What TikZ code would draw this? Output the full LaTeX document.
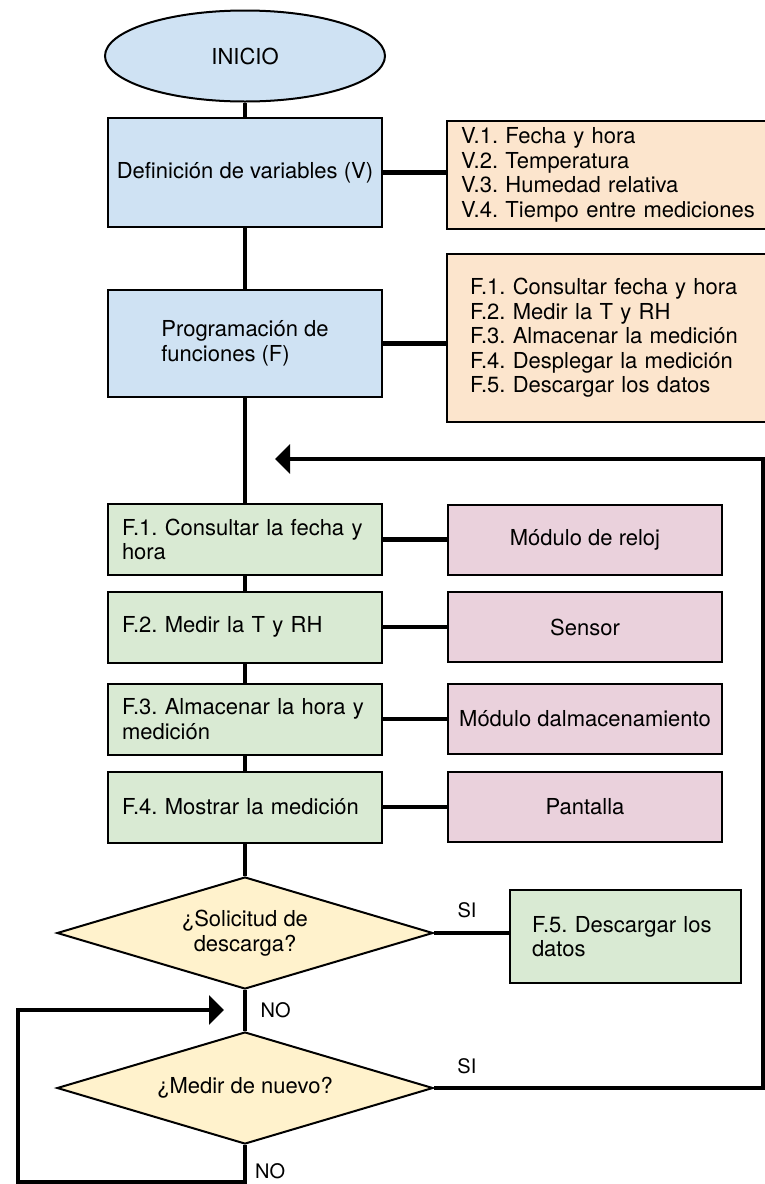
\documentclass[tikz,border=0pt]{standalone}
\usepackage{fontspec}
\setmainfont{TeX Gyre Heros}
\usetikzlibrary{positioning,arrows.meta,shapes.geometric}
\definecolor{azulF}{HTML}{CFE2F3}
\definecolor{naranjaF}{HTML}{FCE5CD}
\definecolor{verdeF}{HTML}{D9EAD3}
\definecolor{rosaF}{HTML}{EAD1DC}
\definecolor{amarilloF}{HTML}{FFF2CC}
\tikzset{
  inicio/.style={ellipse,draw,fill=azulF,line width=2pt,minimum width=280pt,minimum height=91pt},
  proceso/.style={rectangle,draw,fill=azulF,line width=2pt,minimum width=274pt,align=center},
  lista/.style={rectangle,draw,fill=naranjaF,line width=2pt,align=left},
  funcion/.style={rectangle,draw,fill=verdeF,line width=2pt,minimum height=71pt,inner xsep=14pt,text width=246pt,align=left},
  modulo/.style={rectangle,draw,fill=rosaF,line width=2pt,minimum width=274pt,minimum height=70pt,inner xsep=4pt,align=center},
  decision/.style={diamond,draw,fill=amarilloF,line width=2pt,aspect=3.3,inner sep=0pt,minimum width=376pt,minimum height=112pt,align=center},
  union/.style={line width=4.5pt},
  lazo/.style={line width=3.5pt,-{Triangle[length=15pt,width=29pt]}},
  etiqueta/.style={font=\fontsize{20}{22}\selectfont},
}
\begin{document}
\frenchspacing
\begin{tikzpicture}[x=1pt,y=-1pt,font=\fontsize{22}{24.5}\selectfont]
  \useasboundingbox (0,0) rectangle (765,1184);
  \node[inicio] (ini) at (245,56) {INICIO};
  \node[proceso,minimum height=109pt] (def) at (245,172.5) {Definición de variables (V)};
  \node[lista,inner xsep=14pt,text width=305pt,minimum height=108pt] (varV) at (613.5,175) {V.1. Fecha y hora\\V.2. Temperatura\\V.3. Humedad relativa\\V.4. Tiempo entre mediciones};
  \node[proceso,minimum height=107pt,align=left] (prog) at (245,343.5) {Programación de\\funciones (F)};
  \node[lista,inner xsep=23pt,text width=287pt,minimum height=168pt] (funF) at (613.5,338) {F.1. Consultar fecha y hora\\F.2. Medir la T y RH\\F.3. Almacenar la medición\\F.4. Desplegar la medición\\F.5. Descargar los datos};

  \node[funcion] (f1) at (245,539.5) {F.1. Consultar la fecha y\\hora};
  \node[modulo] (reloj) at (585,540) {Módulo de reloj};
  \node[funcion] (f2) at (245,627) {F.2. Medir la T y RH};
  \node[modulo] (sensor) at (585,627) {Sensor};
  \node[funcion] (f3) at (245,719) {F.3. Almacenar la hora y\\medición};
  \node[modulo] (almac) at (585,719) {Módulo dalmacenamiento};
  \node[funcion] (f4) at (245,807) {F.4. Mostrar la medición};
  \node[modulo] (pantalla) at (585,807) {Pantalla};

  \node[decision] (d1) at (245,933) {¿Solicitud de\\descarga?};
  \node[funcion,text width=187pt,inner xsep=22pt,minimum height=93pt] (f5) at (625.5,936.5) {F.5. Descargar los\\datos};
  \node[decision] (d2) at (245,1088) {¿Medir de nuevo?};

  \coordinate (derecha) at (763,459);
  \coordinate (retorno) at (275,459);
  \coordinate (abajo) at (245,1182);
  \coordinate (izq) at (18,1010);
  \coordinate (entrada) at (224,1010);

  \draw[union] (ini) -- (def);
  \draw[union] (def) -- (prog);
  \draw[union] (prog) -- (f1);
  \draw[union] (f1) -- (f2);
  \draw[union] (f2) -- (f3);
  \draw[union] (f3) -- (f4);
  \draw[union] (f4) -- (d1);
  \draw[union] (d1) -- node[etiqueta,midway,right=10pt]{NO} (d2);
  \draw[union] (def.east) -- (def.east -| varV.west);
  \draw[union] (prog.east) -- (prog.east -| funF.west);
  \draw[union] (f1.east) -- (f1.east -| reloj.west);
  \draw[union] (f2.east) -- (f2.east -| sensor.west);
  \draw[union] (f3.east) -- (f3.east -| almac.west);
  \draw[union] (f4.east) -- (f4.east -| pantalla.west);
  \draw[union] (d1.east) -- node[etiqueta,pos=0.44,above=10pt]{SI} (d1.east -| f5.west);

  \draw[lazo] (d2.east) -- node[etiqueta,pos=0.1,above=9pt]{SI} (d2.east -| derecha) -- (derecha) -- (retorno);
  \draw[lazo] (d2.south) -- node[etiqueta,pos=0.72,right=5pt]{NO} (abajo) -| (izq) -- (entrada);
\end{tikzpicture}
\end{document}
